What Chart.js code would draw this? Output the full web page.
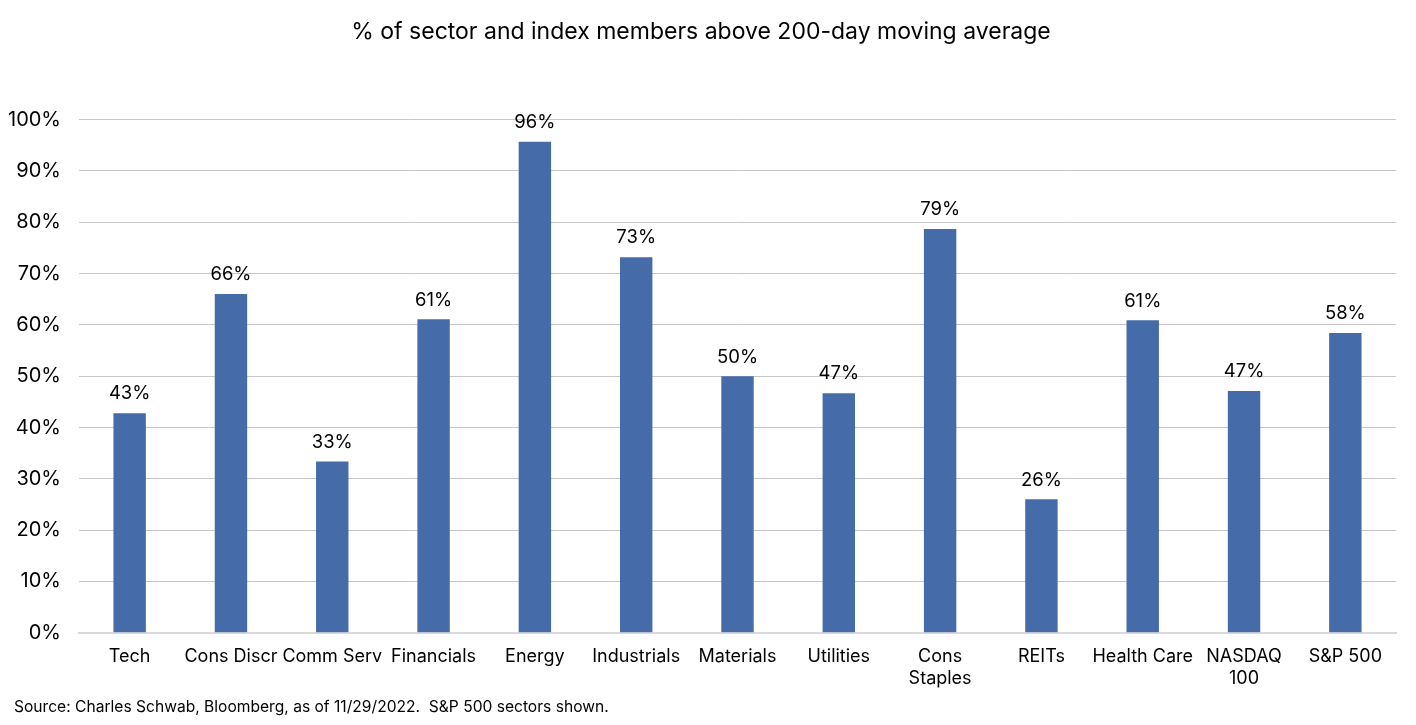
<!DOCTYPE html>
<html>
<head>
<meta charset="utf-8">
<script src="https://cdn.jsdelivr.net/npm/chart.js"></script>
<style>
    html, body { margin: 0; padding: 0; background: #fff; }
    #wrap { position: relative; width: 1416px; height: 725px; }
    #source {
        position: absolute; left: 14px; top: 697px;
        font-family: Inter, "Liberation Sans", sans-serif; font-size: 15.6px; color: #000;
    }
</style>
</head>
<body>
<div id="wrap">
    <canvas id="barChart" width="1416" height="725"></canvas>
    <div id="source">Source: Charles Schwab, Bloomberg, as of 11/29/2022.&nbsp; S&amp;P 500 sectors shown.</div>
</div>

<script>
    const sectors = ['Tech', 'Cons Discr', 'Comm Serv', 'Financials', 'Energy', 'Industrials', 'Materials',
        'Utilities', ['Cons', 'Staples'], 'REITs', 'Health Care', ['NASDAQ', '100'], 'S&P 500'];
    const pctAbove = [42.8, 66.0, 33.4, 61.1, 95.7, 73.2, 50.0, 46.7, 78.7, 26.0, 60.9, 47.1, 58.4];
    const barLabels = ['43%', '66%', '33%', '61%', '96%', '73%', '50%', '47%', '79%', '26%', '61%', '47%', '58%'];
    const yTicks = [0, 10, 20, 30, 40, 50, 60, 70, 80, 90, 100];

    const fontFamily = 'Inter, "Liberation Sans", sans-serif';

    // labels above each bar
    const valueLabels = {
        id: 'valueLabels',
        afterDatasetsDraw(chart) {
            const ctx = chart.ctx;
            const meta = chart.getDatasetMeta(0);
            ctx.save();
            ctx.font = '18.5px ' + fontFamily;
            ctx.fillStyle = '#000';
            ctx.textAlign = 'center';
            ctx.textBaseline = 'bottom';
            meta.data.forEach((bar, i) => {
                ctx.fillText(barLabels[i], bar.x, bar.y - 10);
            });
            ctx.restore();
        }
    };

    new Chart(document.getElementById('barChart'), {
        type: 'bar',
        data: {
            labels: sectors,
            datasets: [{
                data: pctAbove,
                backgroundColor: '#456BA8',
                barPercentage: 0.32,
                categoryPercentage: 1.0
            }]
        },
        options: {
            responsive: false,
            animation: false,
            layout: { padding: { left: 6, right: 20, top: 10, bottom: 31 } },
            plugins: {
                legend: { display: false },
                tooltip: { enabled: false },
                title: {
                    display: true,
                    text: '% of sector and index members above 200-day moving average',
                    color: '#000',
                    font: { family: fontFamily, size: 23, weight: 'normal' },
                    padding: { top: 8, bottom: 74 }
                }
            },
            scales: {
                x: {
                    grid: { display: false },
                    border: { color: '#d9d9d9', width: 2 },
                    ticks: {
                        color: '#000',
                        font: { family: fontFamily, size: 18 },
                        maxRotation: 0,
                        autoSkip: false,
                        padding: 5
                    }
                },
                y: {
                    min: 0,
                    max: 100,
                    afterBuildTicks(axis) {
                        axis.ticks = yTicks.map(v => ({ value: v }));
                    },
                    afterFit(axis) {
                        axis.width = 73;
                    },
                    grid: { color: '#c6c6c6', drawTicks: false },
                    border: { display: false },
                    ticks: {
                        color: '#000',
                        font: { family: fontFamily, size: 20 },
                        padding: 18,
                        callback: v => v + '%'
                    }
                }
            }
        },
        plugins: [valueLabels]
    });
</script>
</body>
</html>
